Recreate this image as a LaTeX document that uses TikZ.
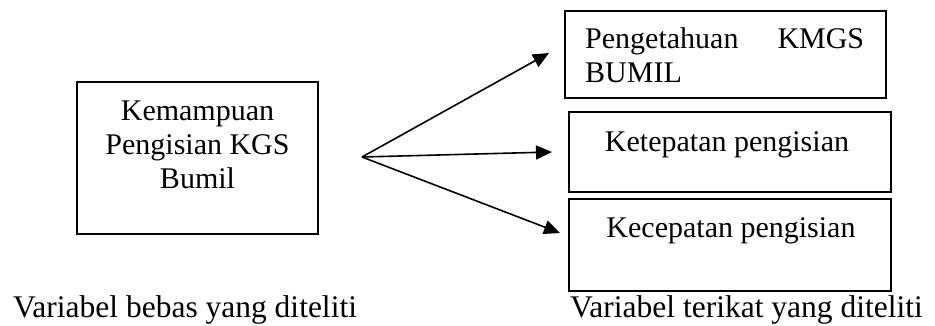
\documentclass[tikz,border=0pt]{standalone}
\usepackage{fontspec}
\setmainfont{Liberation Serif}
\usetikzlibrary{arrows.meta}

\begin{document}
\begin{tikzpicture}[x=1pt, y=-1pt,
  box/.style={draw, line width=1.2pt, minimum width=#1, inner sep=0pt},
  txt/.style={inner sep=0pt, font=\fontsize{30}{34}\selectfont},
  caption/.style={inner sep=0pt, anchor=base west, font=\fontsize{31.5}{36}\selectfont},
  link/.style={line width=1.6pt, -{Triangle[length=16pt, width=14pt]}}]
  \useasboundingbox (0,0) rectangle (935,325);

  % independent variable (text anchored on the baseline of its last line)
  \node[box=241pt, minimum height=152pt] (src) at (197.5,158) {};
  \node[txt, anchor=base, align=center] (srctext) at (197.5,188)
    {Kemampuan\\Pengisian KGS\\Bumil};

  % dependent variables
  \node[box=321pt, minimum height=87pt] (dep1) at (725.5,54.5) {};
  \node[txt, anchor=base west, align=left] (dep1text) at (585,82)
    {\makebox[279pt][l]{Pengetahuan\hfill KMGS}\\BUMIL};

  \node[box=322pt, minimum height=80pt] (dep2) at (730,152) {};
  \node[txt, anchor=base] (dep2text) at (727,151.7) {Ketepatan pengisian};

  \node[box=322pt, minimum height=92pt] (dep3) at (730,245) {};
  \node[txt, anchor=base] (dep3text) at (731,237.7) {Kecepatan pengisian};

  % arrows fanning out from a common point
  \coordinate (fork) at (362,157);
  \coordinate (tip1) at (549,53);
  \coordinate (tip2) at (552,152);
  \coordinate (tip3) at (560,233);
  \draw[link] (fork) -- (tip1);
  \draw[link] (fork) -- (tip2);
  \draw[link] (fork) -- (tip3);

  % captions
  \node[caption] (capsrc) at (13,317.5) {Variabel bebas yang diteliti};
  \node[caption] (capdep) at (570,317.5) {Variabel terikat yang diteliti};
\end{tikzpicture}
\end{document}
